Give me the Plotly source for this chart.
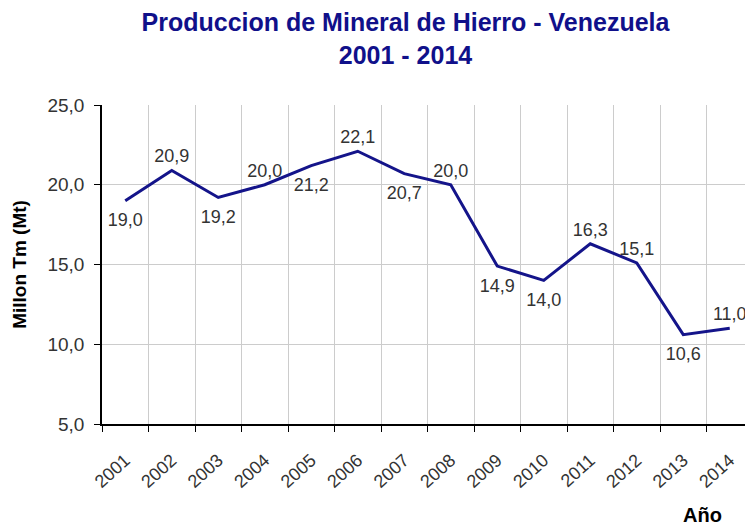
import plotly.graph_objects as go

years = ["2001", "2002", "2003", "2004", "2005", "2006", "2007",
         "2008", "2009", "2010", "2011", "2012", "2013", "2014"]
production = [19.0, 20.9, 19.2, 20.0, 21.2, 22.1, 20.7,
              20.0, 14.9, 14.0, 16.3, 15.1, 10.6, 11.0]
label_pos = ["bottom center", "top center", "bottom center", "top center",
             "bottom center", "top center", "bottom center", "top center",
             "bottom center", "bottom center", "top center", "top center",
             "bottom center", "top center"]
labels = [f"{v:.1f}".replace(".", ",") for v in production]

FONT = "Arial, 'Liberation Sans', sans-serif"

# The page body has an 8px default margin, so the figure is sized 8px smaller.
W, H = 745, 517
L, R, T, B = 94, 0, 97, 101

# invisible marker sizes: only used to push the labels away from the line
pad = [18 if p.startswith("bottom") else 4 for p in label_pos]

fig = go.Figure(go.Scatter(
    x=years, y=production, mode="lines+markers+text",
    line=dict(color="#14148a", width=3),
    marker=dict(size=pad, color="rgba(0,0,0,0)", line=dict(width=0)),
    text=labels, textposition=label_pos,
    textfont=dict(family=FONT, size=18, color="#333333"),
    cliponaxis=False, showlegend=False, hoverinfo="x+y",
))

fig.update_layout(
    width=W, height=H,
    paper_bgcolor="white", plot_bgcolor="white",
    margin=dict(l=L, r=R, t=T, b=B, autoexpand=False),
    separators=",.",
    font=dict(family=FONT, color="#333333"),
    title=dict(
        text="<b>Produccion de Mineral de Hierro - Venezuela<br>2001 - 2014</b>",
        x=397.5 / W, xanchor="center", xref="container",
        y=1 - 23 / H, yanchor="top", yref="container",
        font=dict(size=25, color="#10108a", family=FONT),
    ),
    xaxis=dict(
        type="category", tickson="boundaries", ticks="outside", ticklen=6,
        tickcolor="black", showline=True, linecolor="black", linewidth=1.5,
        showgrid=True, gridcolor="#cccccc", gridwidth=1.2,
        tickangle=-42, ticklabelstandoff=17,
        tickfont=dict(size=18, color="#333333", family=FONT),
        range=[-0.5, 13.5], automargin=False,
    ),
    yaxis=dict(
        range=[5, 25], dtick=5, tickformat=".1f", ticks="outside", ticklen=6,
        tickcolor="black", showline=True, linecolor="black", linewidth=1.5,
        showgrid=True, gridcolor="#cccccc", gridwidth=1.2,
        ticklabelstandoff=6,
        tickfont=dict(size=19, color="#333333", family=FONT),
        title=dict(text="<b>Millon Tm (Mt)</b>", standoff=16,
                   font=dict(size=19, color="black", family=FONT)),
        zeroline=False, automargin=False,
    ),
    annotations=[dict(
        text="<b>Año</b>", xref="paper", yref="paper",
        x=(694 - L) / (W - L - R), y=-(507 - (H - B)) / (H - T - B),
        xanchor="center", yanchor="middle",
        showarrow=False, font=dict(size=20, color="black", family=FONT),
    )],
)

fig.write_html("out.html")
